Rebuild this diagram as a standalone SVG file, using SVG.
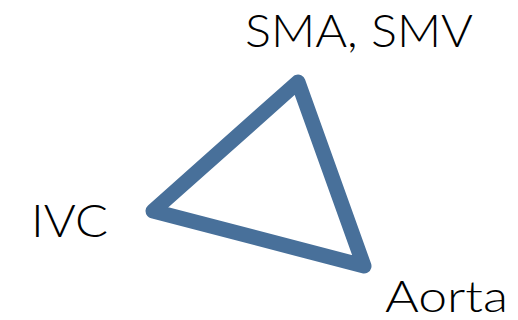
<svg xmlns="http://www.w3.org/2000/svg" width="518" height="320" viewBox="0 0 518 320">
<style>
.lbl{font-family:"Lato","DejaVu Sans",sans-serif;font-size:46px;fill:#000;font-weight:300}
.edge{fill:none;stroke:#48709a;stroke-width:15;stroke-linejoin:round;stroke-linecap:round}
</style>
<rect width="518" height="320" fill="#fff"/>
<g id="connectors">
<polygon class="edge" points="298,82 153,211 364,266"/>
</g>
<g id="node-sma"><text class="lbl" x="245" y="47" textLength="228" lengthAdjust="spacingAndGlyphs">SMA, SMV</text></g>
<g id="node-ivc"><text class="lbl" x="31" y="237" textLength="77" lengthAdjust="spacingAndGlyphs">IVC</text></g>
<g id="node-aorta"><text class="lbl" x="385" y="312" style="font-size:43px" textLength="123" lengthAdjust="spacingAndGlyphs">Aorta</text></g>
</svg>
